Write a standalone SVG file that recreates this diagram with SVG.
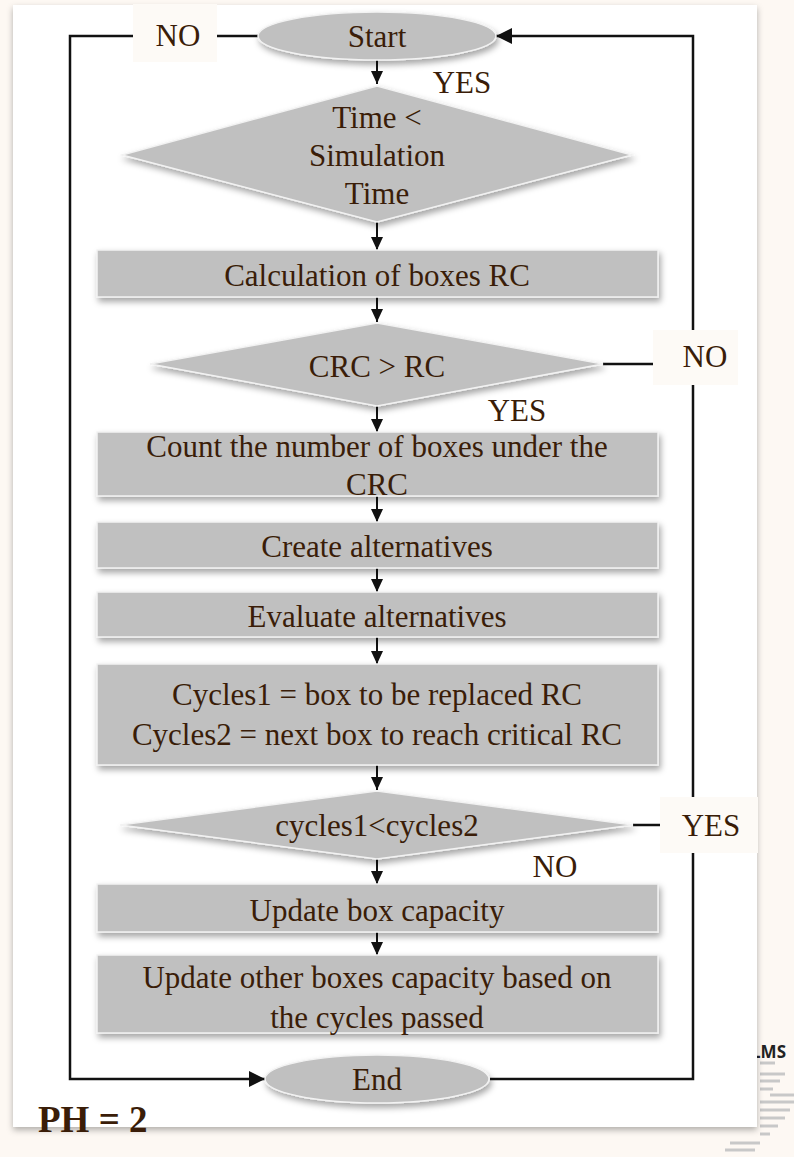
<svg xmlns="http://www.w3.org/2000/svg" width="794" height="1157" viewBox="0 0 794 1157">
<defs>
<filter id="sh" x="-10%" y="-20%" width="120%" height="150%">
<feDropShadow dx="2" dy="4" stdDeviation="3" flood-color="#000" flood-opacity="0.35"/>
</filter>
<filter id="psh" x="-5%" y="-5%" width="110%" height="110%">
<feDropShadow dx="0" dy="3" stdDeviation="3" flood-color="#000" flood-opacity="0.3"/>
</filter>
<marker id="ah" viewBox="0 0 10 10" refX="10" refY="5" markerWidth="13" markerHeight="12" orient="auto" markerUnits="userSpaceOnUse" preserveAspectRatio="none">
<path d="M0,0 L10,5 L0,10 z" fill="#111"/>
</marker>
<marker id="ahb" viewBox="0 0 10 10" refX="10" refY="5" markerWidth="16" markerHeight="16" orient="auto" markerUnits="userSpaceOnUse" preserveAspectRatio="none">
<path d="M0,0 L10,5 L0,10 z" fill="#111"/>
</marker>
</defs>
<style>
.shape{fill:#c0c0c0;stroke:#f2f2f2;stroke-width:1.5;filter:url(#sh)}
.t{font-family:"Liberation Serif","Times New Roman",serif;font-size:31px;fill:#3a1d08;text-anchor:middle}
.lbl{fill:#fdfaf6}
.c{fill:none;stroke:#111;stroke-width:2.5}
.a{fill:none;stroke:#111;stroke-width:2}
</style>
<rect x="0" y="0" width="794" height="1157" fill="#fdf8f3"/>
<text x="751" y="1058" font-family="'Open Sans','DejaVu Sans',sans-serif" font-weight="bold" font-size="17" fill="#222">LMS</text>
<g stroke="#c8c8c8" stroke-width="3">
<line x1="760" y1="1063" x2="775" y2="1063"/>
<line x1="760" y1="1074" x2="785" y2="1074"/>
<line x1="760" y1="1081" x2="780" y2="1081"/>
<line x1="760" y1="1089" x2="773" y2="1089"/>
<line x1="770" y1="1095" x2="794" y2="1095"/>
<line x1="760" y1="1102" x2="794" y2="1102"/>
<line x1="760" y1="1110" x2="790" y2="1110"/>
<line x1="760" y1="1118" x2="785" y2="1118"/>
<line x1="760" y1="1126" x2="778" y2="1126"/>
<line x1="760" y1="1134" x2="770" y2="1134"/>
<line x1="730" y1="1143" x2="760" y2="1143"/>
<line x1="725" y1="1150" x2="755" y2="1150"/>
</g>
<rect id="panel" x="13" y="5" width="744" height="1122" fill="#ffffff" filter="url(#psh)"/>

<g id="connectors">
<polyline class="c" points="133,36 70,36 70,1079 265,1079" marker-end="url(#ahb)"/>
<line class="c" x1="217" y1="36" x2="258" y2="36"/>
<polyline class="c" points="490,1079 693,1079 693,36 496,36" marker-end="url(#ahb)"/>
<line class="a" x1="377" y1="59" x2="377" y2="84" marker-end="url(#ah)"/>
<line class="a" x1="377" y1="222" x2="377" y2="250" marker-end="url(#ah)"/>
<line class="a" x1="377" y1="297" x2="377" y2="322" marker-end="url(#ah)"/>
<line class="c" x1="603" y1="364" x2="653" y2="364"/>
<line class="a" x1="377" y1="405" x2="377" y2="432" marker-end="url(#ah)"/>
<line class="a" x1="377" y1="496" x2="377" y2="522" marker-end="url(#ah)"/>
<line class="a" x1="377" y1="568" x2="377" y2="592" marker-end="url(#ah)"/>
<line class="a" x1="377" y1="637" x2="377" y2="664" marker-end="url(#ah)"/>
<line class="a" x1="377" y1="765" x2="377" y2="790" marker-end="url(#ah)"/>
<line class="c" x1="633" y1="825" x2="660" y2="825"/>
<line class="a" x1="377" y1="859" x2="377" y2="884" marker-end="url(#ah)"/>
<line class="a" x1="377" y1="932" x2="377" y2="955" marker-end="url(#ah)"/>
</g>

<g id="label-no-top"><rect class="lbl" x="133" y="4" width="84" height="58"/><text class="t" x="178" y="46" font-size="29">NO</text></g>
<g id="label-no-right"><rect class="lbl" x="653" y="330" width="85" height="55"/><text class="t" x="705" y="367" font-size="24">NO</text></g>
<g id="label-yes-right"><rect class="lbl" x="660" y="797" width="98" height="56"/><text class="t" x="711" y="836" font-size="27">YES</text></g>
<g id="label-yes-1"><text class="t" x="462" y="93" font-size="29">YES</text></g>
<g id="label-yes-2"><text class="t" x="517" y="421" font-size="29">YES</text></g>
<g id="label-no-3"><text class="t" x="555" y="877" font-size="29">NO</text></g>

<g id="start"><ellipse class="shape" cx="377" cy="36" rx="119" ry="24"/><text class="t" x="377" y="47">Start</text></g>
<g id="d1"><polygon class="shape" points="377,86 632,155 377,222 122,155"/>
<text class="t" x="377" y="128">Time &lt;</text>
<text class="t" x="377" y="166">Simulation</text>
<text class="t" x="377" y="204">Time</text></g>
<g id="b1"><rect class="shape" x="97" y="250" width="561" height="47"/><text class="t" x="377" y="286">Calculation of boxes RC</text></g>
<g id="d2"><polygon class="shape" points="377,323 603,364 377,406 150,364"/><text class="t" x="377" y="377">CRC &gt; RC</text></g>
<g id="b2"><rect class="shape" x="97" y="432" width="561" height="64"/>
<text class="t" x="377" y="457">Count the number of boxes under the</text>
<text class="t" x="377" y="495">CRC</text></g>
<g id="b3"><rect class="shape" x="97" y="522" width="561" height="46"/><text class="t" x="377" y="557">Create alternatives</text></g>
<g id="b4"><rect class="shape" x="97" y="592" width="561" height="45"/><text class="t" x="377" y="627">Evaluate alternatives</text></g>
<g id="b5"><rect class="shape" x="97" y="664" width="561" height="101"/>
<text class="t" x="377" y="705">Cycles1 = box to be replaced RC</text>
<text class="t" x="377" y="745">Cycles2 = next box to reach critical RC</text></g>
<g id="d3"><polygon class="shape" points="377,791 633,825 377,859 120,825"/><text class="t" x="377" y="836">cycles1&lt;cycles2</text></g>
<g id="b6"><rect class="shape" x="97" y="884" width="561" height="48"/><text class="t" x="377" y="921">Update box capacity</text></g>
<g id="b7"><rect class="shape" x="97" y="955" width="561" height="78"/>
<text class="t" x="377" y="988">Update other boxes capacity based on</text>
<text class="t" x="377" y="1028">the cycles passed</text></g>
<g id="end"><ellipse class="shape" cx="377" cy="1079" rx="112" ry="24"/><text class="t" x="377" y="1090">End</text></g>
<text x="38" y="1132" font-family="'Liberation Serif','Times New Roman',serif" font-weight="bold" font-size="37" fill="#3a1d08">PH = 2</text>
</svg>
